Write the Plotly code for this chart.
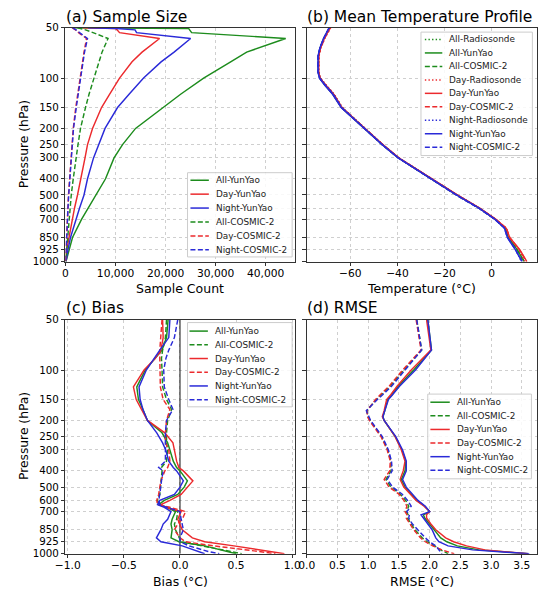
import numpy as np
import plotly.graph_objects as go

# ---------------- pressure axis ----------------
# log scale down to 700 hPa; the three lowest labels are spread out like in the original
AXIS_REAL = [700, 850, 925, 1000]
AXIS_SHOWN = [700, 898, 1060, 1250]
P_TICKS = [50, 100, 150, 200, 250, 300, 400, 500, 600, 700, 850, 925, 1000]


def to_axis(p):
    p = np.asarray(p, dtype=float)
    low = np.exp(np.interp(np.log(p), np.log(AXIS_REAL), np.log(AXIS_SHOWN)))
    return np.where(p <= 700, p, low)


# ---------------- (a) sample size ----------------
PRESS_A = [50, 50.5, 51.5, 53.5, 58, 70, 80, 100, 125, 150, 200, 250, 300, 400, 500, 600, 700, 850, 925, 1000]
N_ALL_YY = [1500, 24600, 24800, 25200, 44000, 36200, 33000, 27600, 23000, 19500, 14000, 11400, 9700, 8000, 6100, 4600, 3200, 1400, 800, 100]
N_DAY_YY = [3500, 10000, 10300, 10800, 18800, 15300, 13300, 10800, 8800, 7200, 5400, 4400, 3900, 3100, 2400, 1800, 1400, 650, 250, 0]
N_NGT_YY = [4500, 10200, 13900, 14200, 25000, 21700, 19100, 15600, 12700, 10400, 7900, 6600, 5600, 4400, 3700, 2800, 2100, 1000, 500, 100]
N_ALL_C2 = [2400, 3000, 4000, 5500, 8500, 7300, 6700, 5600, 4700, 4000, 3000, 2500, 2100, 1550, 1150, 950, 770, 400, 250, 50]
N_DAY_C2 = [1300, 1600, 2000, 2600, 4200, 3700, 3400, 2900, 2450, 2050, 1550, 1300, 1080, 800, 600, 480, 380, 200, 120, 20]
N_NGT_C2 = [1400, 1700, 2100, 2800, 4400, 3800, 3500, 3000, 2550, 2150, 1600, 1350, 1120, 820, 640, 500, 400, 210, 130, 30]

# ---------------- (b) mean temperature ----------------
PRESS_B = [50, 58, 66, 74, 92, 100, 110, 125, 150, 200, 250, 300, 400, 500, 600, 700, 770, 850, 925, 1000]
T_ALL_RS = [-68.6, -71.1, -72.7, -73.5, -73.5, -72.8, -70.4, -67.0, -63.5, -53.9, -46.3, -39.5, -25.8, -14.8, -5.2, 1.6, 5.8, 7.1, 10.7, 13.4]
T_ALL_YY = [-68.8, -71.3, -72.8, -73.5, -73.6, -73.0, -70.8, -67.4, -63.8, -54.2, -46.4, -39.6, -25.8, -14.8, -5.3, 1.6, 5.7, 7.0, 10.8, 13.8]
T_ALL_C2 = [-68.8, -71.2, -72.8, -73.6, -73.6, -72.9, -70.6, -67.2, -63.6, -54.0, -46.4, -39.6, -25.9, -15.0, -5.4, 1.6, 5.8, 7.1, 10.7, 13.9]
T_DAY_RS = [-68.3, -70.8, -72.5, -73.3, -73.3, -72.6, -70.2, -66.8, -63.3, -53.7, -46.2, -39.4, -25.6, -14.6, -5.0, 1.8, 6.2, 7.6, 11.6, 14.0]
T_DAY_YY = [-68.5, -71.0, -72.6, -73.4, -73.4, -72.9, -70.6, -67.2, -63.7, -54.0, -46.2, -39.4, -25.6, -14.6, -5.1, 1.8, 6.2, 7.6, 11.9, 14.9]
T_DAY_C2 = [-68.5, -70.9, -72.6, -73.4, -73.5, -72.8, -70.4, -67.0, -63.5, -53.8, -46.3, -39.5, -25.8, -14.8, -5.2, 1.8, 6.3, 7.6, 11.7, 14.8]
T_NGT_RS = [-68.8, -71.2, -72.8, -73.6, -73.6, -72.9, -70.5, -67.1, -63.6, -54.0, -46.4, -39.6, -25.9, -14.9, -5.3, 1.5, 5.5, 6.7, 10.1, 12.6]
T_NGT_YY = [-69.0, -71.4, -72.9, -73.7, -73.7, -73.1, -70.9, -67.5, -63.9, -54.3, -46.5, -39.7, -26.0, -15.0, -5.4, 1.4, 5.4, 6.6, 10.0, 12.8]
T_NGT_C2 = [-69.0, -71.3, -72.9, -73.7, -73.7, -73.0, -70.7, -67.3, -63.7, -54.1, -46.5, -39.7, -26.1, -15.1, -5.5, 1.4, 5.5, 6.7, 10.1, 13.0]

# ---------------- (c) bias ----------------
PRESS_C = [50, 64, 76, 85, 100, 126, 150, 172, 200, 237, 272, 300, 350, 382, 400, 459, 500, 553, 600, 636,
           660, 700, 760, 800, 850, 900, 925, 950, 985, 1000]
B_ALL_YY = [-0.106, -0.12, -0.16, -0.22, -0.31, -0.385, -0.37, -0.33, -0.29, -0.16, -0.11, -0.09, -0.06, -0.03, 0.00,
            0.066, 0.037, -0.02, -0.14, -0.19, -0.12, -0.04, -0.07, -0.08, -0.07, -0.08, -0.01, 0.22, 0.42, 0.50]
B_ALL_C2 = [-0.12, -0.13, -0.155, -0.165, -0.16, -0.155, -0.12, -0.075, -0.11, -0.12, -0.12, -0.11, -0.12, -0.165, -0.16,
            -0.17, -0.17, -0.18, -0.20, -0.19, -0.11, -0.02, -0.03, -0.05, -0.04, -0.01, 0.01, 0.20, 0.45, 0.55]
B_DAY_YY = [-0.155, -0.15, -0.17, -0.22, -0.32, -0.415, -0.39, -0.34, -0.29, -0.135, -0.063, -0.05, -0.03, -0.01, 0.03,
            0.115, 0.066, 0.01, -0.09, -0.17, -0.127, 0.01, -0.02, 0.00, 0.02, 0.11, 0.22, 0.48, 0.80, 0.93]
B_DAY_C2 = [-0.16, -0.175, -0.18, -0.18, -0.18, -0.175, -0.15, -0.09, -0.12, -0.13, -0.13, -0.10, -0.09, -0.11, -0.135,
            -0.17, -0.18, -0.19, -0.207, -0.20, -0.09, 0.05, 0.02, -0.02, -0.05, 0.00, 0.05, 0.30, 0.70, 0.85]
B_NGT_YY = [-0.09, -0.10, -0.18, -0.23, -0.30, -0.365, -0.355, -0.33, -0.29, -0.207, -0.155, -0.127, -0.10, -0.06, -0.03,
            0.03, 0.00, -0.05, -0.18, -0.20, -0.14, -0.08, -0.11, -0.15, -0.17, -0.21, -0.17, 0.02, 0.15, 0.22]
B_NGT_C2 = [-0.02, -0.05, -0.10, -0.125, -0.145, -0.14, -0.10, -0.063, -0.12, -0.13, -0.13, -0.13, -0.13, -0.19, -0.15,
            -0.165, -0.17, -0.18, -0.19, -0.18, -0.12, 0.00, 0.01, 0.02, 0.03, 0.00, 0.00, 0.08, 0.25, 0.35]

# ---------------- (d) rmse ----------------
PRESS_D = [50, 76, 100, 125, 140, 150, 175, 190, 200, 250, 300, 350, 400, 450, 500, 550, 600, 650, 700, 724,
           750, 800, 850, 900, 925, 950, 975, 1000]
R_ALL_YY = [1.97, 2.03, 1.74, 1.49, 1.39, 1.32, 1.27, 1.24, 1.26, 1.44, 1.55, 1.61, 1.60, 1.54, 1.60, 1.70, 1.79, 1.92,
            2.00, 1.90, 1.92, 2.00, 2.07, 2.18, 2.28, 2.45, 2.80, 3.60]
R_ALL_C2 = [1.79, 1.87, 1.58, 1.36, 1.22, 1.13, 0.98, 1.00, 1.03, 1.22, 1.32, 1.37, 1.37, 1.29, 1.37, 1.52, 1.61, 1.66,
            1.62, 1.65, 1.64, 1.70, 1.76, 1.88, 1.96, 2.08, 2.18, 2.30]
R_DAY_YY = [1.95, 2.02, 1.70, 1.47, 1.37, 1.30, 1.26, 1.23, 1.26, 1.44, 1.54, 1.60, 1.57, 1.52, 1.58, 1.68, 1.78, 1.91,
            2.00, 1.95, 1.95, 2.02, 2.10, 2.26, 2.39, 2.60, 2.90, 3.60]
R_DAY_C2 = [1.78, 1.86, 1.56, 1.34, 1.20, 1.12, 0.98, 0.99, 1.02, 1.21, 1.31, 1.36, 1.35, 1.26, 1.34, 1.50, 1.58, 1.63,
            1.60, 1.63, 1.62, 1.68, 1.74, 1.85, 1.93, 2.05, 2.20, 2.40]
R_NGT_YY = [1.97, 2.03, 1.77, 1.51, 1.40, 1.33, 1.27, 1.24, 1.26, 1.45, 1.56, 1.62, 1.62, 1.56, 1.62, 1.72, 1.81, 1.93,
            2.00, 1.86, 1.90, 1.98, 2.04, 2.10, 2.15, 2.30, 2.70, 3.62]
R_NGT_C2 = [1.79, 1.87, 1.60, 1.38, 1.24, 1.15, 0.97, 1.01, 1.04, 1.23, 1.33, 1.38, 1.39, 1.31, 1.40, 1.55, 1.64, 1.70,
            1.63, 1.67, 1.66, 1.72, 1.80, 1.93, 2.00, 2.10, 2.15, 2.20]

# ---------------- styling ----------------
# the page body has an 8px margin, so the figure is 8px smaller and everything below is given in window pixels
OFF = 8
W, H = 550 - OFF, 596 - OFF
FONT = "DejaVu Sans"
COL = {"All": "#1d8c1d", "Day": "#ec2a2d", "Night": "#2a2ad8"}
DASH = {"Radiosonde": "1.4px,2.2px", "YunYao": "solid", "COSMIC-2": "5px,2.4px"}
LW = 1.45


def px(x):
    return (x - OFF) / W


def py(y):
    return 1 - (y - OFF) / H


fig = go.Figure()


def add_line(x, p, group, source, ax):
    fig.add_trace(go.Scatter(
        x=x, y=to_axis(p), mode="lines", name=f"{group}-{source}", showlegend=False,
        line=dict(color=COL[group], width=LW, dash=DASH[source]),
        xaxis="x" + ax, yaxis="y" + ax, hoverinfo="skip"))


# (a)
for vals, g, s in [(N_ALL_YY, "All", "YunYao"), (N_DAY_YY, "Day", "YunYao"), (N_NGT_YY, "Night", "YunYao"),
                   (N_ALL_C2, "All", "COSMIC-2"), (N_DAY_C2, "Day", "COSMIC-2"), (N_NGT_C2, "Night", "COSMIC-2")]:
    add_line(vals, PRESS_A, g, s, "")
# (b)
for vals, g, s in [(T_ALL_RS, "All", "Radiosonde"), (T_ALL_YY, "All", "YunYao"), (T_ALL_C2, "All", "COSMIC-2"),
                   (T_DAY_RS, "Day", "Radiosonde"), (T_DAY_YY, "Day", "YunYao"), (T_DAY_C2, "Day", "COSMIC-2"),
                   (T_NGT_RS, "Night", "Radiosonde"), (T_NGT_YY, "Night", "YunYao"), (T_NGT_C2, "Night", "COSMIC-2")]:
    add_line(vals, PRESS_B, g, s, "2")
# (c) zero reference line first, then the profiles
fig.add_trace(go.Scatter(x=[0, 0], y=to_axis([50, 1000]), mode="lines", showlegend=False, hoverinfo="skip",
                         line=dict(color="#111", width=1), xaxis="x3", yaxis="y3"))
for vals, g, s in [(B_ALL_YY, "All", "YunYao"), (B_ALL_C2, "All", "COSMIC-2"), (B_DAY_YY, "Day", "YunYao"),
                   (B_DAY_C2, "Day", "COSMIC-2"), (B_NGT_YY, "Night", "YunYao"), (B_NGT_C2, "Night", "COSMIC-2")]:
    add_line(vals, PRESS_C, g, s, "3")
# (d)
for vals, g, s in [(R_ALL_YY, "All", "YunYao"), (R_ALL_C2, "All", "COSMIC-2"), (R_DAY_YY, "Day", "YunYao"),
                   (R_DAY_C2, "Day", "COSMIC-2"), (R_NGT_YY, "Night", "YunYao"), (R_NGT_C2, "Night", "COSMIC-2")]:
    add_line(vals, PRESS_D, g, s, "4")

X_LEFT = [px(56), px(293)]
X_RIGHT = [px(305), px(543)]
Y_TOP = [py(260.7), py(22)]
Y_BOT = [py(559), py(320)]

axis_common = dict(showline=True, mirror=True, linecolor="#333", linewidth=1, ticks="outside", ticklen=3.5,
                   tickwidth=0.9, tickcolor="#333", showgrid=True, gridcolor="#cfcfcf", griddash="dot",
                   gridwidth=1, zeroline=False, tickfont=dict(size=10.7, color="#000"))
x_common = dict(axis_common, ticklabelstandoff=-2)
y_common = dict(axis_common, type="log", range=[np.log10(1250), np.log10(50)],
                tickvals=to_axis(P_TICKS), ticktext=[str(p) for p in P_TICKS],
                tickfont=dict(size=10.3, color="#000"))

fig.update_layout(
    width=W, height=H, margin=dict(l=0, r=0, t=0, b=0),
    paper_bgcolor="white", plot_bgcolor="white",
    font=dict(family=FONT, color="#000"),
    xaxis=dict(x_common, domain=X_LEFT, anchor="y", range=[0, 45870],
               tickvals=[0, 10000, 20000, 30000, 40000], tickformat=",d"),
    yaxis=dict(y_common, domain=Y_TOP, anchor="x"),
    xaxis2=dict(x_common, domain=X_RIGHT, anchor="y2", range=[-78.5, 19.3],
                tickvals=[-60, -40, -20, 0], ticktext=["\u221260", "\u221240", "\u221220", "0"]),
    yaxis2=dict(y_common, domain=Y_TOP, anchor="x2", showticklabels=False),
    xaxis3=dict(x_common, domain=X_LEFT, anchor="y3", range=[-1.02, 1.025],
                tickvals=[-1, -0.5, 0, 0.5, 1], ticktext=["\u22121.0", "\u22120.5", "0.0", "0.5", "1.0"]),
    yaxis3=dict(y_common, domain=Y_BOT, anchor="x3"),
    xaxis4=dict(x_common, domain=X_RIGHT, anchor="y4", range=[0, 3.75],
                tickvals=[0, 0.5, 1, 1.5, 2, 2.5, 3, 3.5], ticktext=["0.0", "0.5", "1.0", "1.5", "2.0", "2.5", "3.0", "3.5"]),
    yaxis4=dict(y_common, domain=Y_BOT, anchor="x4", showticklabels=False),
)


def text(x, y, s, size, xanchor="center", yanchor="middle", angle=0):
    fig.add_annotation(x=px(x), y=py(y), xref="paper", yref="paper", text=s, showarrow=False,
                       xanchor=xanchor, yanchor=yanchor, textangle=angle,
                       font=dict(size=size, color="#000", family=FONT))


# panel titles
text(54, 22, "(a) Sample Size", 15.5, "left", "bottom")
text(303, 22, "(b) Mean Temperature Profile", 15.5, "left", "bottom")
text(54, 319, "(c) Bias", 15.5, "left", "bottom")
text(303, 319, "(d) RMSE", 15.5, "left", "bottom")

# axis titles
text(13, 141, "Pressure (hPa)", 12.3, angle=-90)
text(13, 439, "Pressure (hPa)", 12.3, angle=-90)
text(174.5, 288, "Sample Count", 12.5)
text(424, 288, "Temperature (\u00b0C)", 12.5)
text(174.5, 587, "Bias (\u00b0C)", 12.5)
text(424, 587, "RMSE (\u00b0C)", 12.5)


def add_legend(entries, box, line_x, text_x, first_y, step):
    x0, y0, x1, y1 = box
    fig.add_shape(type="rect", xref="paper", yref="paper", x0=px(x0), x1=px(x1), y0=py(y1), y1=py(y0),
                  line=dict(color="#cccccc", width=1), fillcolor="rgba(255,255,255,0.85)", layer="above")
    for i, (g, s) in enumerate(entries):
        y = first_y + i * step
        fig.add_shape(type="line", xref="paper", yref="paper", x0=px(line_x[0]), x1=px(line_x[1]),
                      y0=py(y), y1=py(y), line=dict(color=COL[g], width=1.5, dash=DASH[s]), layer="above")
        fig.add_annotation(x=px(text_x), y=py(y), xref="paper", yref="paper", text=f"{g}-{s}",
                           showarrow=False, xanchor="left", yanchor="middle",
                           font=dict(size=8.9, color="#222", family=FONT))


add_legend([("All", "YunYao"), ("Day", "YunYao"), ("Night", "YunYao"),
            ("All", "COSMIC-2"), ("Day", "COSMIC-2"), ("Night", "COSMIC-2")],
           (182, 170, 290, 256), (185, 204), 209, 177.7, 14.2)
add_legend([("All", "Radiosonde"), ("All", "YunYao"), ("All", "COSMIC-2"),
            ("Day", "Radiosonde"), ("Day", "YunYao"), ("Day", "COSMIC-2"),
            ("Night", "Radiosonde"), ("Night", "YunYao"), ("Night", "COSMIC-2")],
           (423, 26.5, 538, 152.5), (427, 445), 450, 34, 13.75)
add_legend([("All", "YunYao"), ("All", "COSMIC-2"), ("Day", "YunYao"),
            ("Day", "COSMIC-2"), ("Night", "YunYao"), ("Night", "COSMIC-2")],
           (182, 323, 290, 409), (184, 203), 208.5, 331.7, 14)
add_legend([("All", "YunYao"), ("All", "COSMIC-2"), ("Day", "YunYao"),
            ("Day", "COSMIC-2"), ("Night", "YunYao"), ("Night", "COSMIC-2")],
           (430, 396, 537, 482.5), (432.7, 452.7), 458, 404.3, 13.9)

fig.write_html("out.html")
